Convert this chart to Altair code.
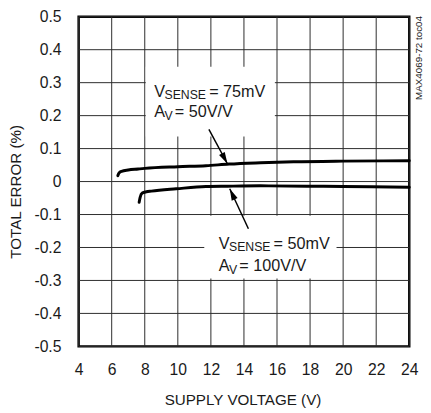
import math
import altair as alt
import pandas as pd

# ---- data ----
x_ticks = [4, 6, 8, 10, 12, 14, 16, 18, 20, 22, 24]
y_ticks = [-0.5, -0.4, -0.3, -0.2, -0.1, 0.0, 0.1, 0.2, 0.3, 0.4, 0.5]
y_labels = ["-0.5", "-0.4", "-0.3", "-0.2", "-0.1", "0", "0.1", "0.2", "0.3", "0.4", "0.5"]

upper_v = [6.37, 6.45, 6.6, 7.0, 7.6, 8.0, 10.0, 11.7, 13.1, 15.0, 17.0, 20.0, 24.0]
upper_err = [0.018, 0.026, 0.031, 0.035, 0.038, 0.040, 0.045, 0.048, 0.053, 0.057, 0.060, 0.062, 0.063]

lower_v = [7.66, 7.72, 7.85, 8.1, 8.4, 9.9, 11.7, 13.0, 15.0, 17.8, 20.0, 24.0]
lower_err = [-0.063, -0.048, -0.035, -0.031, -0.029, -0.022, -0.015, -0.014, -0.013, -0.014, -0.015, -0.017]

# annotation boxes / text / arrows (data units)
box_x1 = [8.06, 11.6]
box_x2 = [15.87, 19.6]
box_y1 = [0.137, -0.104]
box_y2 = [0.348, -0.294]

note_x = [8.57, 12.47]
line1_y = [0.256, -0.205]
line2_y = [0.196, -0.270]
sense_txt = ["= 75mV", "= 50mV"]
gain_txt = ["= 50V/V", "= 100V/V"]

arrow_tail_x = [11.88, 14.27]
arrow_tail_y = [0.158, -0.143]
arrow_tip_x = [13.0, 13.14]
arrow_tip_y = [0.054, -0.022]

FONT = "Liberation Sans"
W, H = 337, 336
X0, X1, Y0, Y1 = 4, 24, -0.5, 0.5
INK = "#1a1a1a"

curves = pd.DataFrame({
    "v": upper_v + lower_v,
    "err": upper_err + lower_err,
    "s": ["75mV"] * len(upper_v) + ["50mV"] * len(lower_v),
})
boxes = pd.DataFrame({"x": box_x1, "x2": box_x2, "y": box_y1, "y2": box_y2})
notes = pd.DataFrame({"x": note_x, "y1": line1_y, "y2": line2_y,
                      "sense": sense_txt, "gain": gain_txt})
xgrid = pd.DataFrame({"x": x_ticks})
ygrid = pd.DataFrame({"y": y_ticks})

px_x = W / (X1 - X0)
px_y = H / (Y1 - Y0)
angles = []
for tx, ty, hx, hy in zip(arrow_tail_x, arrow_tail_y, arrow_tip_x, arrow_tip_y):
    dx = (hx - tx) * px_x
    dy = -(hy - ty) * px_y
    angles.append(math.degrees(math.atan2(dx, -dy)) % 360)
arrows = pd.DataFrame({"x": arrow_tail_x, "y": arrow_tail_y,
                       "x2": arrow_tip_x, "y2": arrow_tip_y, "ang": angles})

xs = alt.Scale(domain=[X0, X1], nice=False, zero=False)
ys = alt.Scale(domain=[Y0, Y1], nice=False, zero=False)

label_expr = "[" + ",".join("'%s'" % s for s in y_labels) + "][round((datum.value + 0.5) * 10)]"

x_axis = alt.Axis(values=x_ticks, title="SUPPLY VOLTAGE (V)")
y_axis = alt.Axis(values=y_ticks, labelExpr=label_expr, title="TOTAL ERROR (%)")


def X(field):
    return alt.X(field, scale=xs, axis=x_axis)


def Y(field):
    return alt.Y(field, scale=ys, axis=y_axis)


vgrid = alt.Chart(xgrid).mark_rule(color="#2b2b2b", strokeWidth=1).encode(x=X("x:Q"))
hgrid = alt.Chart(ygrid).mark_rule(color="#2b2b2b", strokeWidth=1).encode(y=Y("y:Q"))

base_lines = alt.Chart(curves).mark_line(
    color="black", strokeWidth=3, interpolate="monotone", strokeCap="round"
).encode(x=X("v:Q"), y=Y("err:Q"), detail="s:N")

rects = alt.Chart(boxes).mark_rect(fill="white", strokeWidth=0).encode(
    x=X("x:Q"), x2="x2:Q", y=Y("y:Q"), y2="y2:Q",
)

arrow_lines = alt.Chart(arrows).mark_rule(color="black", strokeWidth=1.5).encode(
    x=X("x:Q"), x2="x2:Q", y=Y("y:Q"), y2="y2:Q",
)
arrow_heads = alt.Chart(arrows).mark_point(
    shape="M0,0L-0.28,1L0.28,1Z", filled=True, fill="black", strokeWidth=0,
    size=560, opacity=1,
).encode(
    x=X("x2:Q"), y=Y("y2:Q"),
    angle=alt.Angle("ang:Q", scale=None),
)


def txt(text_field, ycol, dx, dy, size):
    return alt.Chart(notes).mark_text(
        align="left", baseline="alphabetic", dx=dx, dy=dy,
        font=FONT, fontSize=size, color=INK,
    ).encode(x=X("x:Q"), y=Y(ycol + ":Q"), text=text_field)


t1 = txt(alt.value("V"), "y1", 0, 0, 16.5)
t2 = txt(alt.value("SENSE"), "y1", 10.5, 2, 12.5)
t3 = txt("sense:N", "y1", 56, 0, 16.5)
t4 = txt(alt.value("A"), "y2", 0, 0, 16.5)
t5 = txt(alt.value("V"), "y2", 10.5, 3, 12.5)
t6 = txt("gain:N", "y2", 21, 0, 16.5)

tag = alt.Chart(pd.DataFrame({"t": ["MAX4069-72 toc04"]})).mark_text(
    angle=270, align="center", baseline="middle", font=FONT, fontSize=10,
    color=INK,
).encode(x=alt.value(347), y=alt.value(42), text="t:N")

chart = alt.layer(
    vgrid, hgrid, base_lines, rects, arrow_lines, arrow_heads,
    t1, t2, t3, t4, t5, t6, tag
).properties(
    width=W, height=H,
    padding={"left": 72, "top": 5, "right": 14, "bottom": 64},
    autosize="none",
).configure_view(
    stroke="black", strokeWidth=2.5
).configure_axis(
    grid=False, ticks=False, tickSize=0, domain=False,
    labelFont=FONT, labelFontSize=16, labelColor=INK,
    labelFlush=False, labelOverlap=False,
    titleFont=FONT, titleFontSize=15.5, titleFontWeight="normal", titleColor=INK,
).configure_axisX(
    labelPadding=16, labelBaseline="top",
    titleX=167, titleY=59, titleBaseline="alphabetic", titleAlign="center",
).configure_axisY(
    labelPadding=18,
    titleAngle=270, titleX=-64, titleY=178, titleAlign="center", titleBaseline="middle",
)

chart.save("out.html", embed_options={"renderer": "svg", "actions": False})
